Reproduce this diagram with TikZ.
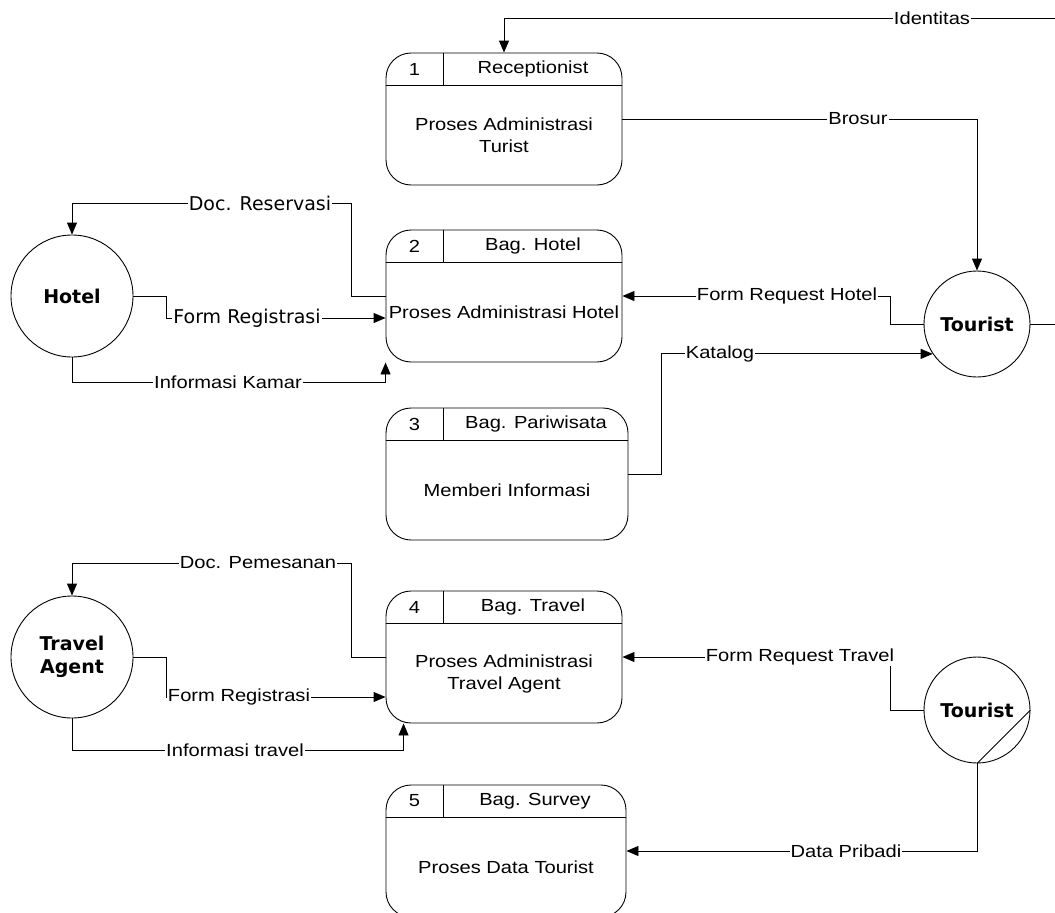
\documentclass[tikz,border=0pt]{standalone}
\usepackage{fontspec}
\setmainfont[FakeStretch=1.15]{Liberation Sans}
\newfontfamily\verd{DejaVu Sans}
\usetikzlibrary{arrows.meta}
\newcommand\atxt{\fontsize{17.5}{22}\selectfont}
\newcommand\vtxt{\verd\fontsize{19}{23}\selectfont}
\tikzset{
  proc/.style={draw, rounded corners=25pt, minimum width=236pt, minimum height=132pt, inner sep=0pt},
  ent/.style={draw, circle, inner sep=0pt, align=center, font=\vtxt\bfseries},
  flow/.style={-{Triangle[length=12pt,width=10pt]}},
  lbl/.style={fill=white, inner sep=1pt, font=\atxt},
  vlbl/.style={fill=white, inner sep=1pt, font=\vtxt},
}
\begin{document}
\begin{tikzpicture}[x=1pt,y=-1pt,line width=0.9pt]
\clip (0,0) rectangle (1055,913);
% processes
\foreach \n/\cx/\cy/\w/\num/\role/\body in {
  b1/504/119/236/1/Receptionist/{Proses Administrasi\\Turist},
  b2/504/296/236/2/Bag. Hotel/{Proses Administrasi Hotel},
  b3/507/474/242/3/Bag. Pariwisata/{Memberi Informasi},
  b4/504/657/236/4/Bag. Travel/{Proses Administrasi\\Travel Agent},
  b5/506/851/240/5/Bag. Survey/{Proses Data Tourist}}
{
  \node[proc, minimum width=\w pt] (\n) at (\cx,\cy) {};
  \draw ([yshift=-33pt]\n.north west) -- ([yshift=-33pt]\n.north east);
  \draw ([xshift=58pt]\n.north west) -- ([xshift=58pt,yshift=-33pt]\n.north west);
  \node[font=\atxt] at ([xshift=29pt,yshift=-16.5pt]\n.north west) {\num};
  \node[font=\atxt] at ([xshift=29pt,yshift=-16.5pt]\n.north) {\role};
  \node[font=\atxt, align=center] at ([yshift=-16.5pt]\n.center) {\body};
}
% entities
\node[ent, minimum size=122pt] (hotel) at (72,296) {Hotel};
\node[ent, minimum size=106pt] (tourA) at (977,324) {Tourist};
\node[ent, minimum size=122pt] (agent) at (72,657) {Travel\\Agent};
\node[ent, minimum size=106pt] (tourB) at (977,710) {Tourist};
\draw (tourB.east) -- (tourB.south);
\coordinate (idR) at (1055,18);
\coordinate (tourR) at (1055,324);
% flows
\draw[flow] (idR) -| (b1.north);
\node[lbl] at (932,18) {Identitas};
\draw[flow] (b1.east) -| (tourA.north);
\node[lbl] at (858,119) {Brosur};
\draw (tourA.east) -- (tourR);
\draw[flow] (b2.west) -- ++(-34,0) -- ++(0,-93) -| (hotel.north);
\node[vlbl] at (260,203) {Doc. Reservasi};
\draw[flow] (hotel.east) -- ++(33,0) |- ([yshift=-22pt]b2.west);
\node[vlbl] at (247,318) {Form Registrasi};
\draw[flow] (hotel.south) -- ++(0,25) -| (b2.south west);
\node[lbl] at (228,382) {Informasi Kamar};
\draw[flow] (tourA.west) -- ++(-33,0) |- (b2.east);
\node[lbl] at (787,296) {Form Request Hotel};
\draw[flow] (b3.east) -- ++(33,0) |- (tourA.214.5);
\node[lbl] at (720,354) {Katalog};
\draw[flow] (b4.west) -- ++(-34,0) -- ++(0,-94) -| (agent.north);
\node[lbl] at (258,563) {Doc. Pemesanan};
\draw[flow] (agent.east) -- ++(33,0) |- ([yshift=-40pt]b4.west);
\node[lbl] at (239,697) {Form Registrasi};
\draw[flow] (agent.south) -- ++(0,32) -| ([xshift=18pt]b4.south west);
\node[lbl] at (235,750) {Informasi travel};
\draw[flow] (tourB.west) -- ++(-33,0) |- (b4.east);
\node[lbl] at (800,657) {Form Request Travel};
\draw[flow] (tourB.south) |- (b5.east);
\node[lbl] at (846,851) {Data Pribadi};
\end{tikzpicture}
\end{document}
